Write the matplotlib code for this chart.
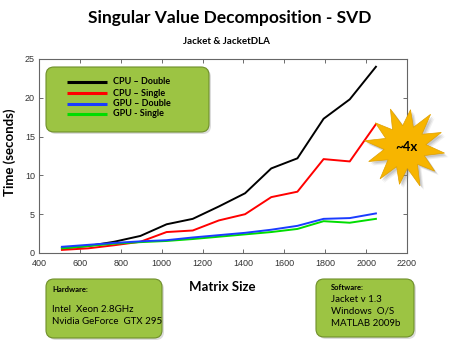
import numpy as np
import matplotlib
matplotlib.use("Agg")
import matplotlib.pyplot as plt
from matplotlib.patches import FancyBboxPatch, Polygon

sizes = [512, 640, 768, 896, 1024, 1152, 1280, 1408, 1536, 1664, 1792, 1920, 2048]
cpu_double = [0.6, 0.9, 1.45, 2.2, 3.7, 4.4, 6.0, 7.7, 10.9, 12.2, 17.3, 19.8, 24.0]
cpu_single = [0.4, 0.6, 1.0, 1.45, 2.7, 2.9, 4.2, 5.0, 7.2, 7.9, 12.1, 11.8, 16.6]
gpu_double = [0.8, 1.05, 1.3, 1.5, 1.65, 2.0, 2.3, 2.6, 3.0, 3.5, 4.4, 4.5, 5.1]
gpu_single = [0.6, 0.9, 1.2, 1.4, 1.55, 1.8, 2.1, 2.4, 2.7, 3.1, 4.1, 3.9, 4.4]
series_labels = ["CPU \u2013 Double", "CPU \u2013 Single", "GPU \u2013 Double", "GPU - Single"]
series_colors = ["#000000", "#ff0000", "#1a3cff", "#00dd00"]
x_ticks = [400, 600, 800, 1000, 1200, 1400, 1600, 1800, 2000, 2200]
y_ticks = [0, 5, 10, 15, 20, 25]
title = "Singular Value Decomposition - SVD"
subtitle = "Jacket & JacketDLA"
hw_lines = ["Hardware:", "Intel  Xeon 2.8GHz", "Nvidia GeForce  GTX 295"]
sw_lines = ["Software:", "Jacket v 1.3", "Windows  O/S", "MATLAB 2009b"]

W, H = 450, 350
fig = plt.figure(figsize=(4.5, 3.5), dpi=100)
fig.patch.set_facecolor("white")

L, R, T, B = 39, 407, 59, 253
ax = fig.add_axes([L / W, 1 - B / H, (R - L) / W, (B - T) / H])
for s, c, lab in zip([cpu_double, cpu_single, gpu_single, gpu_double],
                     [series_colors[0], series_colors[1], series_colors[3], series_colors[2]],
                     [series_labels[0], series_labels[1], series_labels[3], series_labels[2]]):
    ax.plot(sizes, s, color=c, lw=1.4, label=lab)
ax.set_xlim(400, 2200)
ax.set_ylim(0, 25)
ax.set_xticks(x_ticks)
ax.set_yticks(y_ticks)
ax.tick_params(direction="in", length=3, width=0.6, colors="#555555", labelsize=6.5,
               top=True, right=True, labelcolor="#333333")
ax.tick_params(axis="x", pad=4)
ax.tick_params(axis="y", pad=3)
for lbl in ax.get_xticklabels() + ax.get_yticklabels():
    lbl.set_fontfamily("Liberation Sans")
for sp in ax.spines.values():
    sp.set_color("#666666")
    sp.set_linewidth(0.8)

# overlay in pixel coordinates
ov = fig.add_axes([0, 0, 1, 1], zorder=10)
ov.set_xlim(0, W)
ov.set_ylim(H, 0)
ov.axis("off")
ov.patch.set_alpha(0)

FONT = "Lato"
ov.text(230, 18, title, ha="center", va="center", fontsize=12.5, fontweight="bold", family=FONT)
ov.text(226, 41, subtitle, ha="center", va="center", fontsize=7, fontweight="bold", family=FONT)
ov.text(10, 152, "Time (seconds)", ha="center", va="center", rotation=90, fontsize=9.5,
        fontweight="bold", family=FONT)
ov.text(222, 287, "Matrix Size", ha="center", va="center", fontsize=9.5, fontweight="bold", family=FONT)

GREEN = "#9cc443"
EDGE = "#6f8f2a"

def box(x0, y0, x1, y1, r=8):
    ov.add_patch(FancyBboxPatch((x0 + r + 2, y0 + r + 2), (x1 - x0) - 2 * r, (y1 - y0) - 2 * r,
                                boxstyle=f"round,pad={r}", fc="#bbbbbb", ec="none", alpha=0.5))
    ov.add_patch(FancyBboxPatch((x0 + r, y0 + r), (x1 - x0) - 2 * r, (y1 - y0) - 2 * r,
                                boxstyle=f"round,pad={r}", fc=GREEN, ec=EDGE, lw=0.8))

box(46, 67, 209, 132)
legend_y = [82, 93, 103.5, 114]
for yy, c, lab in zip(legend_y, series_colors, series_labels):
    ov.plot([67, 107], [yy, yy], color=c, lw=2.2, solid_capstyle="butt")
    ov.text(113, yy, lab, ha="left", va="center", fontsize=6.5, fontweight="bold", family=FONT)

box(46, 279, 162, 338)
ov.text(52, 290, hw_lines[0], ha="left", va="center", fontsize=5.5, fontweight="bold", family=FONT)
ov.text(52, 310, hw_lines[1], ha="left", va="center", fontsize=7, family=FONT)
ov.text(52, 322, hw_lines[2], ha="left", va="center", fontsize=7, family=FONT)

box(316, 279, 414, 337)
ov.text(331, 287, sw_lines[0], ha="left", va="center", fontsize=5.5, fontweight="bold", family=FONT)
for i, t in enumerate(sw_lines[1:]):
    ov.text(331, 299 + 12 * i, t, ha="left", va="center", fontsize=7, family=FONT)

# starburst
cx, cy = 405, 147
n = 12
ang = np.linspace(0, 2 * np.pi, 2 * n, endpoint=False) + 0.15
outer = np.array([40, 38, 41, 37, 40, 39, 41, 38, 40, 37, 41, 39])
rad = np.empty(2 * n)
rad[0::2] = outer
rad[1::2] = 21
pts = np.c_[cx + rad * np.cos(ang), cy + rad * 1.02 * np.sin(ang)]
for k, a in [(3, 0.12), (2, 0.18), (1, 0.25)]:
    ov.add_patch(Polygon(pts + [k + 1, k + 1], closed=True, fc="#888888", ec="none", alpha=a))
ov.add_patch(Polygon(pts, closed=True, fc="#f7b500", ec="#e0a000", lw=0.5))
ov.text(cx + 1, cy, "~4x", ha="center", va="center", fontsize=9.5, fontweight="bold", family=FONT)

fig.savefig("out.png", dpi=100)
